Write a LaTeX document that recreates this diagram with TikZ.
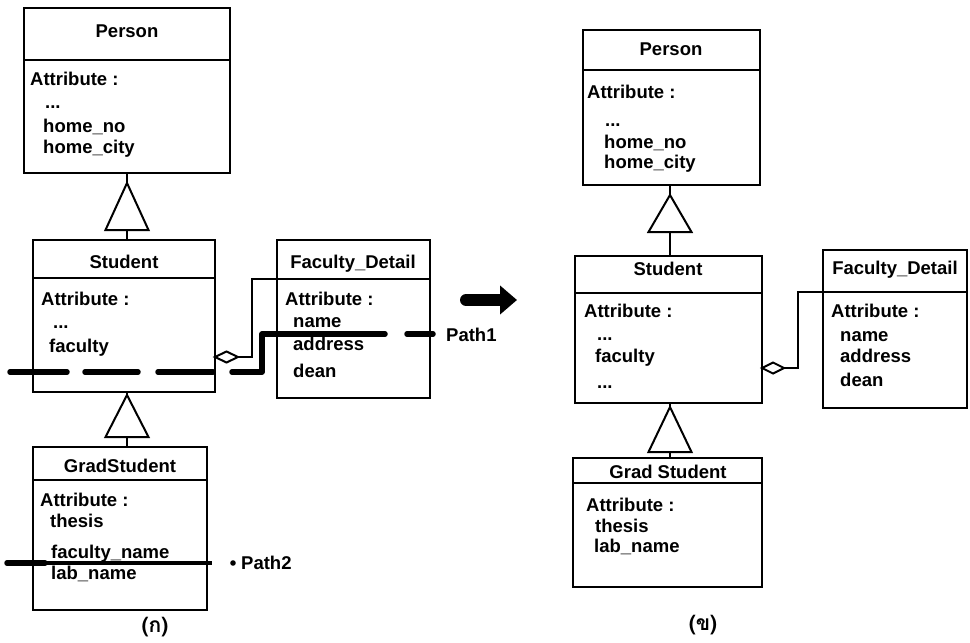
\documentclass[tikz,border=0pt]{standalone}
\usepackage{fontspec}
\setmainfont{Liberation Sans}
\newfontfamily\thaifont[Script=Thai]{Loma}
\usetikzlibrary{arrows.meta}

% class box: name, x1, y1, x2, y2, y of the line under the title
\newcommand\umlclass[6]{%
  \node[classbox, minimum width=#4-#2, minimum height=#5-#3] (#1) at (#2,#3) {};
  \coordinate (#1-sep) at (#2,#6);
  \draw[sepline] (#1-sep) -- (#4,#6);
}
% generalization: parent, child, x, apex y, base y
\newcommand\inherit[5]{%
  \coordinate (#1-apex) at (#3,#4);
  \coordinate (#1-base) at (#3,#5);
  \draw[umlline] (#1.south -| #1-apex) -- (#1-apex);
  \draw[umlline, fill=white] (#1-apex) -- ++(-21.5,#5-#4) -- ++(43,0) -- cycle;
  \draw[umlline] (#1-base) -- (#2.north -| #1-base);
}

\begin{document}
\begin{tikzpicture}[x=1pt,y=-1pt,
  classbox/.style={draw, line width=2.2pt, inner sep=0pt, outer sep=0pt, anchor=north west},
  sepline/.style={line width=1.5pt},
  title/.style={anchor=base, inner sep=0pt, font=\fontsize{18.5}{21}\selectfont\bfseries},
  attr/.style={anchor=base west, inner sep=0pt, font=\fontsize{18.5}{21}\selectfont\bfseries},
  caption/.style={inner sep=0pt, font=\thaifont\fontsize{21}{24}\selectfont\bfseries},
  umlline/.style={line width=2pt, line join=miter},
  pathmark/.style={line width=5.5pt, line cap=round, line join=round},
]
\useasboundingbox[fill=white] (0,0) rectangle (970,643);

% ---------------- left model ----------------
\umlclass{lperson}{24}{8}{230}{173}{60}
\node[title] (lpT) at (127,37) {Person};
\node[attr] (lpA) at (30,85) {Attribute :};
\node[attr] (lpD) at (45,108) {...};
\node[attr] (lp1) at (43,132) {home\_no};
\node[attr] (lp2) at (43,153) {home\_city};

\umlclass{lstudent}{33}{240}{215}{392}{278}
\node[title] (lsT) at (124,268) {Student};
\node[attr] (lsA) at (41,305) {Attribute :};
\node[attr] (lsD) at (53,328) {...};
\node[attr] (ls1) at (49,352) {faculty};

\umlclass{lfac}{277}{240}{430}{398}{279}
\node[title] (lfT) at (353,268) {Faculty\_Detail};
\node[attr] (lfA) at (285,305) {Attribute :};
\node[attr] (lf1) at (293,327) {name};
\node[attr] (lf2) at (293,350) {address};
\node[attr] (lf3) at (293,377) {dean};

\umlclass{lgrad}{33}{447}{207}{610}{480}
\node[title] (lgT) at (120,472) {GradStudent};
\node[attr] (lgA) at (40,506) {Attribute :};
\node[attr] (lg1) at (50,527) {thesis};
\node[attr] (lg2) at (51,558) {faculty\_name};
\node[attr] (lg3) at (51,579) {lab\_name};

\inherit{lperson}{lstudent}{127}{183}{230}
\inherit{lstudent}{lgrad}{127}{395}{437}

% aggregation Student <>-- Faculty_Detail
\coordinate (lagg) at (215,357);
\draw[umlline, fill=white] (lagg) -- ++(11.5,-5.5) -- ++(11.5,5.5) coordinate (laggtip) -- ++(-11.5,5.5) -- cycle;
\draw[umlline] (laggtip) -- ++(14,0) |- (lfac-sep);

% access path 1
\draw[pathmark] (10,372) -- (67,372);
\draw[pathmark] (85,372) -- (138,372);
\draw[pathmark] (158,372) -- (213,372);
\draw[pathmark] (232,372) -- (262,372) -- (262,334) -- (385,334);
\draw[pathmark] (407,334) -- (433,334);
\node[attr] (path1) at (446,341) {Path1};

% access path 2
\draw[pathmark] (7,563) -- (45,563);
\draw[line width=3.2pt] (45,563) -- (212,563);
\fill (233,563) circle (2.8);
\node[attr] (path2) at (241,569) {Path2};

\node[caption] (capa) at (155,627) {(ก)};

% transformation arrow
\draw[line width=12pt, line cap=round, -{Triangle[length=17pt,width=28pt]}] (466,300) -- (517,300);

% ---------------- right model ----------------
\umlclass{rperson}{583}{30}{760}{185}{70}
\node[title] (rpT) at (671,55) {Person};
\node[attr] (rpA) at (587,98) {Attribute :};
\node[attr] (rpD) at (605,126) {...};
\node[attr] (rp1) at (604,148) {home\_no};
\node[attr] (rp2) at (604,168) {home\_city};

\umlclass{rstudent}{575}{256}{762}{403}{293}
\node[title] (rsT) at (668,275) {Student};
\node[attr] (rsA) at (584,317) {Attribute :};
\node[attr] (rsD1) at (597,340) {...};
\node[attr] (rs1) at (595,362) {faculty};
\node[attr] (rsD2) at (597,388) {...};

\umlclass{rfac}{823}{250}{967}{408}{292}
\node[title] (rfT) at (895,274) {Faculty\_Detail};
\node[attr] (rfA) at (831,317) {Attribute :};
\node[attr] (rf1) at (840,341) {name};
\node[attr] (rf2) at (840,362) {address};
\node[attr] (rf3) at (840,386) {dean};

\umlclass{rgrad}{573}{458}{762}{587}{483}
\node[title] (rgT) at (668,478) {Grad Student};
\node[attr] (rgA) at (586,511) {Attribute :};
\node[attr] (rg1) at (595,532) {thesis};
\node[attr] (rg2) at (594,552) {lab\_name};

\inherit{rperson}{rstudent}{670}{195}{232}
\inherit{rstudent}{rgrad}{670}{407}{452}

\coordinate (ragg) at (762,368);
\draw[umlline, fill=white] (ragg) -- ++(11,-5.5) -- ++(11,5.5) coordinate (raggtip) -- ++(-11,5.5) -- cycle;
\draw[umlline] (raggtip) -- ++(14,0) |- (rfac-sep);

\node[caption] (capb) at (703,625) {(ข)};
\end{tikzpicture}
\end{document}
